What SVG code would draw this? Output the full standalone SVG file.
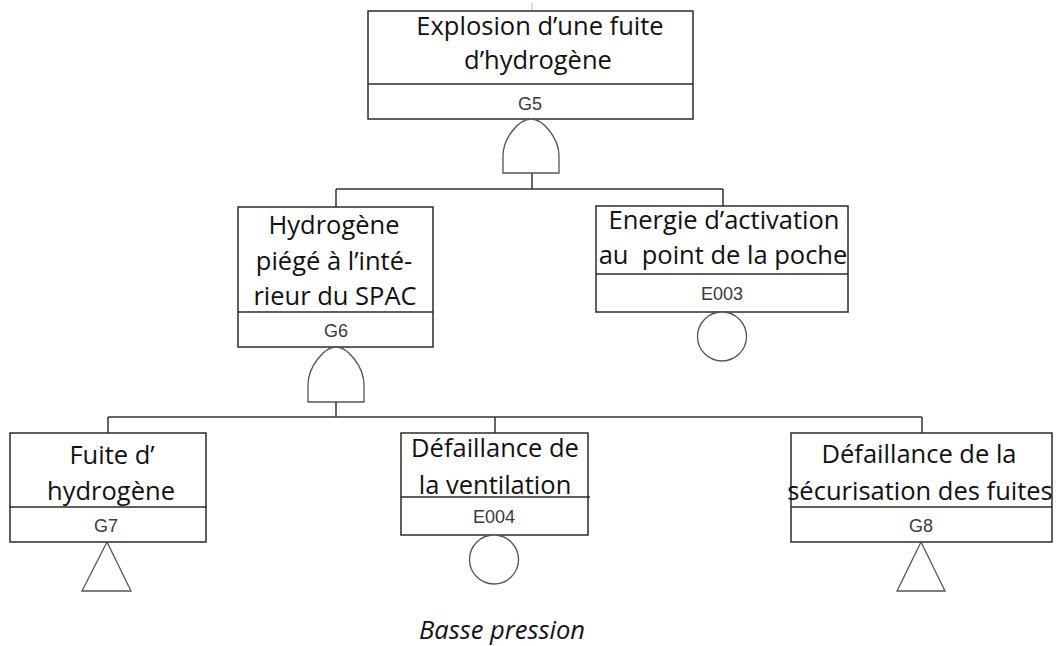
<svg xmlns="http://www.w3.org/2000/svg" width="1060" height="646" viewBox="0 0 1060 646">
<style>
.box{fill:#fff;stroke:#2b2b2b;stroke-width:1.5}
.div{stroke:#2b2b2b;stroke-width:1.5;fill:none}
.gate{fill:#fff;stroke:#555;stroke-width:1.3}
.con{stroke:#333;stroke-width:1.5;fill:none}
.t{font-family:"Open Sans","Liberation Sans",sans-serif;font-size:25.5px;fill:#111;text-anchor:middle}
.id{font-family:"Liberation Sans",Arial,sans-serif;font-size:18px;fill:#3a3a3a;text-anchor:middle}
.note{font-family:"Open Sans","Liberation Sans",sans-serif;font-size:25.5px;font-style:italic;fill:#111}
</style>
<rect width="1060" height="646" fill="#fff"/>
<g id="connectors">
<line class="con" x1="532" y1="3" x2="532" y2="11" style="stroke:#bbb;stroke-width:1"/>
<line class="con" x1="532" y1="173" x2="532" y2="189"/>
<line class="con" x1="336" y1="189" x2="723" y2="189"/>
<line class="con" x1="336" y1="189" x2="336" y2="207"/>
<line class="con" x1="723" y1="189" x2="723" y2="206"/>
<line class="con" x1="336" y1="402" x2="336" y2="417"/>
<line class="con" x1="108" y1="417" x2="922" y2="417"/>
<line class="con" x1="108" y1="417" x2="108" y2="433"/>
<line class="con" x1="495" y1="417" x2="495" y2="433"/>
<line class="con" x1="922" y1="417" x2="922" y2="433"/>
</g>
<g id="G5">
<rect class="box" x="368" y="11" width="325" height="108"/>
<line class="div" x1="368" y1="84" x2="693" y2="84"/>
<text class="t" x="540" y="35">Explosion d’une fuite</text>
<text class="t" x="538" y="69">d’hydrogène</text>
<text class="id" x="530" y="110">G5</text>
<path class="gate" d="M503,173 V156 C503,138 519,119 531,119 C543,119 559,138 559,156 V173 Z"/>
</g>
<g id="G6">
<rect class="box" x="238" y="207" width="195" height="140"/>
<line class="div" x1="238" y1="312" x2="433" y2="312"/>
<text class="t" x="334" y="234">Hydrogène</text>
<text class="t" x="334" y="270">piégé à l’inté-</text>
<text class="t" x="335" y="305">rieur du SPAC</text>
<text class="id" x="336" y="337">G6</text>
<path class="gate" d="M308,402 V385 C308,367 324,347 336,347 C348,347 364,367 364,385 V402 Z"/>
</g>
<g id="E003">
<rect class="box" x="596" y="206" width="252" height="106"/>
<line class="div" x1="596" y1="274" x2="848" y2="274"/>
<text class="t" x="724" y="229">Energie d’activation</text>
<text class="t" x="723" y="264" style="white-space:pre">au  point de la poche</text>
<text class="id" x="722" y="300">E003</text>
<circle class="gate" cx="722" cy="336.5" r="24.5"/>
</g>
<g id="G7">
<rect class="box" x="10" y="433" width="196" height="109"/>
<line class="div" x1="10" y1="507" x2="206" y2="507"/>
<text class="t" x="112" y="464">Fuite d’</text>
<text class="t" x="111" y="500">hydrogène</text>
<text class="id" x="106" y="532">G7</text>
<polygon class="gate" points="107,542 82,591 131,591"/>
</g>
<g id="E004">
<rect class="box" x="401" y="433" width="187" height="102"/>
<line class="div" x1="401" y1="497" x2="590" y2="497"/>
<text class="t" x="495" y="457">Défaillance de</text>
<text class="t" x="495" y="494">la ventilation</text>
<text class="id" x="494" y="523">E004</text>
<circle class="gate" cx="494" cy="559.5" r="24.5"/>
</g>
<g id="G8">
<rect class="box" x="791" y="433" width="261" height="109"/>
<line class="div" x1="791" y1="507" x2="1052" y2="507"/>
<text class="t" x="919" y="463">Défaillance de la</text>
<text class="t" x="920" y="500">sécurisation des fuites</text>
<text class="id" x="921" y="532">G8</text>
<polygon class="gate" points="921,542 897,591 945,591"/>
</g>
<text class="note" x="419" y="639">Basse pression</text>
</svg>
